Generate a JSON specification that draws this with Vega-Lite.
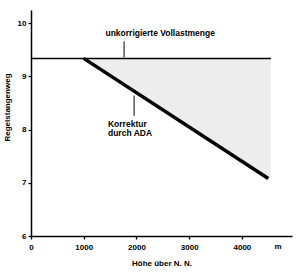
{
  "$schema": "https://vega.github.io/schema/vega-lite/v6.json",
  "width": 261,
  "height": 226,
  "autosize": {"type": "none"},
  "padding": {"left": 31, "top": 10, "right": 8, "bottom": 38},
  "background": "white",
  "config": {
    "view": {"stroke": null},
    "font": "Liberation Sans",
    "axis": {
      "grid": false,
      "domainColor": "black",
      "domainWidth": 1.5,
      "ticks": true,
      "tickColor": "black",
      "tickWidth": 1.3,
      "tickSize": 3,
      "labelFont": "Liberation Sans",
      "labelFontWeight": "bold",
      "labelFontSize": 8,
      "labelColor": "black",
      "titleFont": "Liberation Sans",
      "titleFontWeight": "bold",
      "titleFontSize": 8,
      "titleColor": "black",
      "labelOverlap": false,
      "labelFlush": false,
      "zindex": 1
    }
  },
  "datasets": {
    "area": [
      {"x": 1000, "lo": 9.34, "hi": 9.34},
      {"x": 4500, "lo": 7.08, "hi": 9.34},
      {"x": 4550, "lo": 7.08, "hi": 9.34}
    ],
    "diag": [
      {"x": 1000, "y": 9.34},
      {"x": 4500, "y": 7.08}
    ],
    "flat": [{"x": 0, "x2": 4550, "y": 9.34}],
    "leaders": [
      {"x": 1765, "y": 9.66, "y2": 9.36},
      {"x": 1955, "y": 8.64, "y2": 8.26}
    ],
    "topLabel": [{"x": 2450, "y": 9.81, "text": "unkorrigierte Vollastmenge"}],
    "adaLabel": [
      {"x": 1460, "y": 8.11, "text": "Korrektur"},
      {"x": 1460, "y": 7.93, "text": "durch ADA"}
    ],
    "unit": [{"x": 4687, "y": 6, "text": "m"}]
  },
  "layer": [
    {
      "data": {"name": "area"},
      "mark": {"type": "area", "color": "#ededed"},
      "encoding": {
        "x": {
          "field": "x", "type": "quantitative",
          "scale": {"domain": [0, 4950], "nice": false, "zero": false},
          "axis": {
            "title": "Höhe über N. N.",
            "values": [0, 500, 1000, 1500, 2000, 2500, 3000, 3500, 4000, 4500],
            "format": "d",
            "labelExpr": "datum.value % 1000 === 0 ? datum.label : ''",
            "labelPadding": 4,
            "titlePadding": 8
          }
        },
        "y": {
          "field": "lo", "type": "quantitative",
          "scale": {"domain": [6, 10.25], "nice": false, "zero": false},
          "axis": {
            "title": "Regelstangenweg",
            "values": [6, 6.5, 7, 7.5, 8, 8.5, 9, 9.5, 10],
            "format": "d",
            "labelExpr": "datum.value % 1 === 0 ? datum.label : ''",
            "labelPadding": 2,
            "titleX": -24,
            "titleY": 97,
            "titleAngle": -90,
            "titleBaseline": "middle",
            "titleAlign": "center"
          }
        },
        "y2": {"field": "hi"}
      }
    },
    {
      "data": {"name": "flat"},
      "mark": {"type": "rule", "color": "black", "strokeWidth": 1.5},
      "encoding": {
        "x": {"field": "x", "type": "quantitative"},
        "x2": {"field": "x2"},
        "y": {"field": "y", "type": "quantitative"}
      }
    },
    {
      "data": {"name": "diag"},
      "mark": {"type": "line", "color": "black", "strokeWidth": 3.5},
      "encoding": {
        "x": {"field": "x", "type": "quantitative"},
        "y": {"field": "y", "type": "quantitative"}
      }
    },
    {
      "data": {"name": "leaders"},
      "mark": {"type": "rule", "color": "black", "strokeWidth": 1},
      "encoding": {
        "x": {"field": "x", "type": "quantitative"},
        "y": {"field": "y", "type": "quantitative"},
        "y2": {"field": "y2"}
      }
    },
    {
      "data": {"name": "topLabel"},
      "mark": {"type": "text", "font": "Liberation Sans", "fontWeight": "bold", "fontSize": 8.5, "align": "center", "baseline": "middle", "color": "black"},
      "encoding": {
        "x": {"field": "x", "type": "quantitative"},
        "y": {"field": "y", "type": "quantitative"},
        "text": {"field": "text"}
      }
    },
    {
      "data": {"name": "adaLabel"},
      "mark": {"type": "text", "font": "Liberation Sans", "fontWeight": "bold", "fontSize": 8.5, "align": "left", "baseline": "middle", "color": "black"},
      "encoding": {
        "x": {"field": "x", "type": "quantitative"},
        "y": {"field": "y", "type": "quantitative"},
        "text": {"field": "text"}
      }
    },
    {
      "data": {"name": "unit"},
      "mark": {"type": "text", "font": "Liberation Sans", "fontWeight": "bold", "fontSize": 8, "align": "center", "baseline": "middle", "dy": 11, "color": "black"},
      "encoding": {
        "x": {"field": "x", "type": "quantitative"},
        "y": {"field": "y", "type": "quantitative"},
        "text": {"field": "text"}
      }
    }
  ]
}
